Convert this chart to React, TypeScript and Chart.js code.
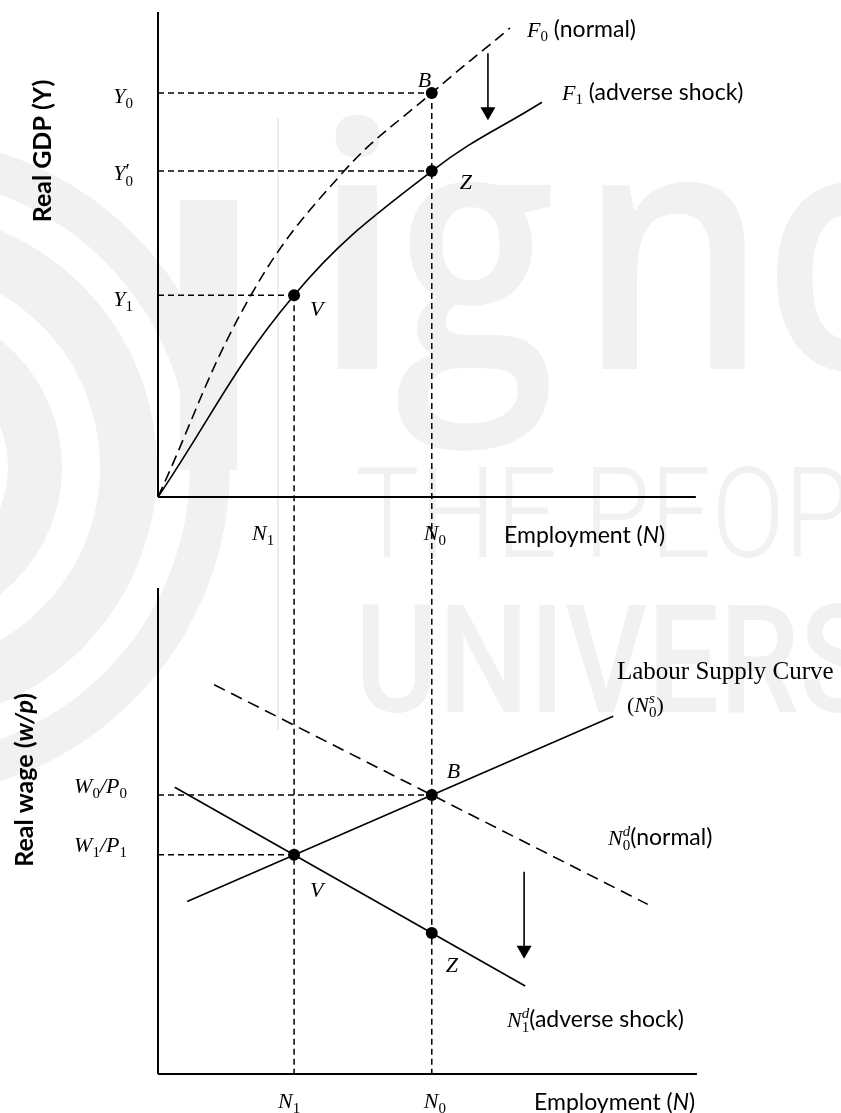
import React, { useEffect, useRef } from "react";
import { Chart, registerables } from "chart.js";
Chart.register(...registerables);

// ---------- Top panel: production functions ----------
const employmentMarks = [25.2, 50.7]; // N1, N0
const outputMarks = [83.3, 67.2, 41.6]; // Y0, Y0', Y1
const f0Employment = [0, 17.2, 34.3, 50.7, 65.2];
const f0Output = [0, 41.6, 67.0, 83.3, 96.7];
const f1Employment = [0, 25.2, 50.7, 71.1];
const f1Output = [0, 41.6, 67.2, 81.4];
const topPointN = [50.7, 50.7, 25.2]; // B, Z, V
const topPointY = [83.3, 67.2, 41.6];
const topShiftArrow = [61.1, 91.5, 77.7]; // N, from, to

// ---------- Bottom panel: labour market ----------
const wageMarks = [57.4, 45.1]; // W0/P0, W1/P1
const supplyN = [5.4, 84.3];
const supplyW = [35.5, 73.6];
const demandNormalN = [10.4, 90.7];
const demandNormalW = [80.1, 34.9];
const demandShockN = [3.1, 68.0];
const demandShockW = [59.0, 18.1];
const bottomPointN = [50.7, 25.2, 50.7]; // B, V, Z
const bottomPointW = [57.4, 45.1, 29.0];
const bottomShiftArrow = [67.8, 41.6, 23.7];

const SERIF = '"Liberation Serif", "DejaVu Serif", serif';
const SANS = 'Lato, "Open Sans", sans-serif';
const MI = `italic 22px ${SERIF}`;
const SUB = `15px ${SERIF}`;
const SUPI = `italic 15px ${SERIF}`;
const SANSF = `23px ${SANS}`;
const SANSI = `italic 23px ${SANS}`;

type Run = { t: string; f: string; dy?: number; over?: boolean };

function drawRuns(ctx: CanvasRenderingContext2D, x: number, y: number, runs: Run[], align: "left" | "right" | "center" = "left") {
  const widths = runs.map((r) => { ctx.font = r.f; return ctx.measureText(r.t).width; });
  const starts: number[] = [];
  let cx = 0, lastStart = 0, lastW = 0;
  runs.forEach((r, i) => {
    const w = widths[i];
    if (r.over) {
      starts.push(lastStart);
      cx = Math.max(lastStart + lastW, lastStart + w);
      lastW = Math.max(lastW, w);
    } else {
      starts.push(cx);
      lastStart = cx; lastW = w; cx += w;
    }
  });
  const total = cx;
  const x0 = align === "center" ? x - total / 2 : align === "right" ? x - total : x;
  ctx.textAlign = "left";
  runs.forEach((r, i) => {
    ctx.font = r.f;
    ctx.fillText(r.t, x0 + starts[i], y + (r.dy || 0));
  });
}

const pts = (xs: number[], ys: number[]) => xs.map((x, i) => ({ x, y: ys[i] }));

const lineDs = (data: any[], width: number, dash: number[] = [], extra: any = {}) => ({
  data, showLine: true, borderColor: "#000", borderWidth: width, borderDash: dash,
  pointRadius: 0, pointHoverRadius: 0, fill: false, clip: false, tension: 0, ...extra,
});

const dotDs = (data: any[]) => ({
  data, showLine: false, pointRadius: 6, pointBackgroundColor: "#000", pointBorderWidth: 0, clip: false,
});

function drawArrow(ctx: CanvasRenderingContext2D, x: number, y1: number, y2: number) {
  ctx.save();
  ctx.strokeStyle = "#000"; ctx.fillStyle = "#000"; ctx.lineWidth = 1.6; ctx.setLineDash([]);
  ctx.beginPath(); ctx.moveTo(x, y1); ctx.lineTo(x, y2 - 12); ctx.stroke();
  ctx.beginPath(); ctx.moveTo(x - 7.5, y2 - 13); ctx.lineTo(x + 7.5, y2 - 13); ctx.lineTo(x, y2); ctx.closePath(); ctx.fill();
  ctx.restore();
}

function topLabels(chart: any) {
  const ctx: CanvasRenderingContext2D = chart.ctx;
  const X = (v: number) => chart.scales.x.getPixelForValue(v);
  const Y = (v: number) => chart.scales.y.getPixelForValue(v);
  ctx.save();
  ctx.fillStyle = "#000"; ctx.textBaseline = "alphabetic";
  drawArrow(ctx, X(topShiftArrow[0]), Y(topShiftArrow[1]), Y(topShiftArrow[2]));
  drawRuns(ctx, 133, Y(outputMarks[0]) + 10, [{ t: "Y", f: MI }, { t: "0", f: SUB, dy: 5 }], "right");
  drawRuns(ctx, 133, Y(outputMarks[1]) + 9, [{ t: "Y", f: MI }, { t: "\u2032", f: `20px ${SERIF}`, dy: -2 }, { t: "0", f: SUB, dy: 6, over: true }], "right");
  drawRuns(ctx, 133, Y(outputMarks[2]) + 11, [{ t: "Y", f: MI }, { t: "1", f: SUB, dy: 5 }], "right");
  drawRuns(ctx, X(employmentMarks[0]) - 42, 540, [{ t: "N", f: MI }, { t: "1", f: SUB, dy: 5 }]);
  drawRuns(ctx, X(employmentMarks[1]) - 8, 540, [{ t: "N", f: MI }, { t: "0", f: SUB, dy: 5 }]);
  drawRuns(ctx, 504, 543, [{ t: "Employment (", f: SANSF }, { t: "N", f: SANSI }, { t: ")", f: SANSF }]);
  drawRuns(ctx, X(topPointN[0]) - 14, Y(topPointY[0]) - 6, [{ t: "B", f: MI }]);
  drawRuns(ctx, X(topPointN[1]) + 28, Y(topPointY[1]) + 18, [{ t: "Z", f: MI }]);
  drawRuns(ctx, X(topPointN[2]) + 16, Y(topPointY[2]) + 21, [{ t: "V", f: MI }]);
  drawRuns(ctx, 527, 37, [{ t: "F", f: MI }, { t: "0", f: SUB, dy: 4 }, { t: " (normal)", f: SANSF }]);
  drawRuns(ctx, 562, 100, [{ t: "F", f: MI }, { t: "1", f: SUB, dy: 4 }, { t: " (adverse shock)", f: SANSF }]);
  ctx.translate(43, 151); ctx.rotate(-Math.PI / 2); ctx.textBaseline = "middle";
  drawRuns(ctx, 0, 0, [{ t: "Real GDP (Y)", f: `bold 25px ${SANS}` }], "center");
  ctx.restore();
}

function bottomLabels(chart: any) {
  const ctx: CanvasRenderingContext2D = chart.ctx;
  const X = (v: number) => chart.scales.x.getPixelForValue(v);
  const Y = (v: number) => chart.scales.y.getPixelForValue(v);
  ctx.save();
  ctx.fillStyle = "#000"; ctx.textBaseline = "alphabetic";
  drawArrow(ctx, X(bottomShiftArrow[0]), Y(bottomShiftArrow[1]), Y(bottomShiftArrow[2]));
  drawRuns(ctx, 127, Y(wageMarks[0]) - 2, [{ t: "W", f: MI }, { t: "0", f: SUB, dy: 5 }, { t: "/", f: MI }, { t: "P", f: MI }, { t: "0", f: SUB, dy: 5 }], "right");
  drawRuns(ctx, 127, Y(wageMarks[1]) - 3, [{ t: "W", f: MI }, { t: "1", f: SUB, dy: 5 }, { t: "/", f: MI }, { t: "P", f: MI }, { t: "1", f: SUB, dy: 5 }], "right");
  drawRuns(ctx, 617, 119, [{ t: "Labour Supply Curve", f: `25px ${SERIF}` }]);
  drawRuns(ctx, 627, 152, [{ t: "(", f: `22px ${SERIF}` }, { t: "N", f: MI }, { t: "s", f: SUPI, dy: -9 }, { t: "0", f: SUB, dy: 5, over: true }, { t: ")", f: `22px ${SERIF}` }]);
  drawRuns(ctx, X(bottomPointN[0]) + 15, Y(bottomPointW[0]) - 17, [{ t: "B", f: MI }]);
  drawRuns(ctx, 608, 285, [{ t: "N", f: MI }, { t: "d", f: SUPI, dy: -9 }, { t: "0", f: SUB, dy: 5, over: true }, { t: "(normal)", f: SANSF }]);
  drawRuns(ctx, X(bottomPointN[1]) + 16, Y(bottomPointW[1]) + 42, [{ t: "V", f: MI }]);
  drawRuns(ctx, X(bottomPointN[2]) + 14, Y(bottomPointW[2]) + 39, [{ t: "Z", f: MI }]);
  drawRuns(ctx, 507, 467, [{ t: "N", f: MI }, { t: "d", f: SUPI, dy: -9 }, { t: "1", f: SUB, dy: 5, over: true }, { t: "(adverse shock)", f: SANSF }]);
  drawRuns(ctx, X(employmentMarks[0]) - 16, 548, [{ t: "N", f: MI }, { t: "1", f: SUB, dy: 5 }]);
  drawRuns(ctx, X(employmentMarks[1]) - 8, 548, [{ t: "N", f: MI }, { t: "0", f: SUB, dy: 5 }]);
  drawRuns(ctx, 534, 550, [{ t: "Employment (", f: SANSF }, { t: "N", f: SANSI }, { t: ")", f: SANSF }]);
  ctx.translate(25, 220); ctx.rotate(-Math.PI / 2); ctx.textBaseline = "middle";
  drawRuns(ctx, 0, 0, [{ t: "Real wage (", f: `bold 25px ${SANS}` }, { t: "w/p", f: `italic bold 25px ${SANS}` }, { t: ")", f: `bold 25px ${SANS}` }], "center");
  ctx.restore();
}

function makeOptions(padding: any, labels: (c: any) => void) {
  return {
    type: "scatter" as const,
    options: {
      responsive: false, maintainAspectRatio: false, animation: false as const, devicePixelRatio: 1,
      layout: { padding },
      scales: {
        x: { type: "linear" as const, min: 0, max: 100, display: false },
        y: { type: "linear" as const, min: 0, max: 100, display: false },
      },
      plugins: { legend: { display: false }, tooltip: { enabled: false } },
      events: [],
    },
    plugins: [{ id: "labels", afterDatasetsDraw: (c: any) => labels(c) }],
  };
}

export default function App() {
  const topRef = useRef<HTMLCanvasElement>(null);
  const botRef = useRef<HTMLCanvasElement>(null);

  useEffect(() => {
    const guide = [6, 4];
    const [n1, n0] = employmentMarks;
    const smooth = { tension: 0.4, cubicInterpolationMode: "default" };
    const topCfg: any = makeOptions({ left: 158, right: 143, top: 12, bottom: 63 }, topLabels);
    topCfg.data = {
      datasets: [
        dotDs(pts(topPointN, topPointY)),
        lineDs(pts(f1Employment, f1Output), 1.6, [], smooth),
        lineDs(pts(f0Employment, f0Output), 1.6, [11, 6], smooth),
        lineDs([{ x: 0, y: outputMarks[0] }, { x: n0, y: outputMarks[0] }], 1.5, guide),
        lineDs([{ x: 0, y: outputMarks[1] }, { x: n0, y: outputMarks[1] }], 1.5, guide),
        lineDs([{ x: 0, y: outputMarks[2] }, { x: n1, y: outputMarks[2] }], 1.5, guide),
        lineDs([{ x: n1, y: outputMarks[2] }, { x: n1, y: -13 }], 1.5, guide),
        lineDs([{ x: n0, y: outputMarks[0] }, { x: n0, y: -13 }], 1.5, guide),
        lineDs([{ x: 0, y: 0 }, { x: 0, y: 100 }], 2),
        lineDs([{ x: 0, y: 0 }, { x: 99.6, y: 0 }], 2),
      ],
    };
    const botCfg: any = makeOptions({ left: 158, right: 143, top: 28, bottom: 39 }, bottomLabels);
    botCfg.data = {
      datasets: [
        dotDs(pts(bottomPointN, bottomPointW)),
        lineDs(pts(supplyN, supplyW), 1.6),
        lineDs(pts(demandShockN, demandShockW), 1.6),
        lineDs(pts(demandNormalN, demandNormalW), 1.6, [12, 7]),
        lineDs([{ x: 0, y: wageMarks[0] }, { x: n0, y: wageMarks[0] }], 1.5, guide),
        lineDs([{ x: 0, y: wageMarks[1] }, { x: n1, y: wageMarks[1] }], 1.5, guide),
        lineDs([{ x: n1, y: 106 }, { x: n1, y: 0 }], 1.5, guide),
        lineDs([{ x: n0, y: 106 }, { x: n0, y: 0 }], 1.5, guide),
        lineDs([{ x: 0, y: 0 }, { x: 0, y: 100 }], 2),
        lineDs([{ x: 0, y: 0 }, { x: 99.8, y: 0 }], 2),
      ],
    };
    const top = new Chart(topRef.current!, topCfg);
    const bot = new Chart(botRef.current!, botCfg);
    return () => { top.destroy(); bot.destroy(); };
  }, []);

  const wm = "#f1f1f1";
  const ring = (r1: number, r2: number) => ({
    position: "absolute" as const, left: -100 - r2, top: 467 - r2, width: 2 * r1, height: 2 * r1,
    borderRadius: "50%", border: `${r2 - r1}px solid ${wm}`,
  });
  const letter = (left: number, scale: number) => ({
    position: "absolute" as const, left, top: 68, font: `600 340px "Open Sans"`, lineHeight: 1, color: wm,
    whiteSpace: "nowrap" as const, transform: `scaleX(${scale})`, transformOrigin: "left top",
  });
  return (
    <div style={{ position: "absolute", left: 0, top: 0, width: 841, height: 1113, overflow: "hidden", background: "#fff" }}>
      <div style={ring(108, 162)} />
      <div style={ring(200, 257)} />
      <div style={ring(290, 330)} />
      <div style={{ position: "absolute", left: 180, top: 200, width: 57, height: 270, background: wm }} />
      <div style={{ position: "absolute", left: 277, top: 118, width: 2, height: 612, background: "#ececec" }} />
      <div style={letter(310, 1)}>i</div>
      <div style={letter(395, 0.85)}>g</div>
      <div style={letter(578, 0.88)}>n</div>
      <div style={letter(762, 0.88)}>o</div>
      <div style={{ position: "absolute", left: 355, top: 450, font: `300 127px Roboto`, lineHeight: 1, color: wm, whiteSpace: "nowrap", transform: "scaleX(0.85)", transformOrigin: "left top" }}>THE PEOPLE'S</div>
      <div style={{ position: "absolute", left: 355, top: 586, font: `500 150px Roboto`, lineHeight: 1, color: wm, whiteSpace: "nowrap", transform: "scaleX(0.85)", transformOrigin: "left top" }}>UNIVERSITY</div>
      <canvas ref={topRef} width={841} height={560} style={{ position: "absolute", left: 0, top: 0, width: 841, height: 560 }} />
      <canvas ref={botRef} width={841} height={553} style={{ position: "absolute", left: 0, top: 560, width: 841, height: 553 }} />
    </div>
  );
}
